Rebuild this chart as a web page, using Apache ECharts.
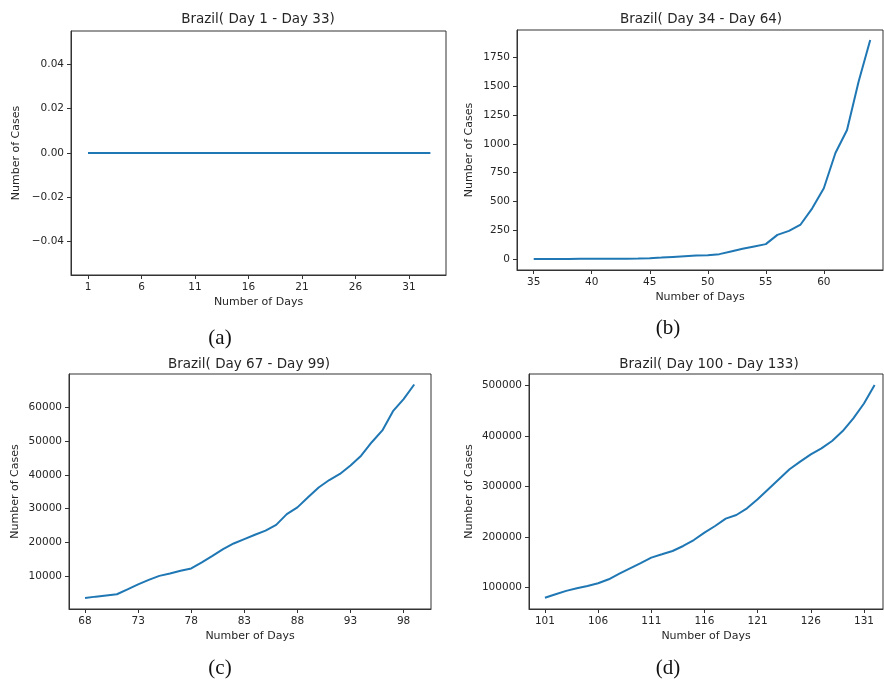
<!DOCTYPE html>
<html>
<head>
<meta charset="utf-8">
<script src="https://cdn.jsdelivr.net/npm/echarts@6/dist/echarts.min.js"></script>
<style>html,body{margin:0;padding:0;background:#fff}#c{width:884px;height:680px}</style>
</head>
<body>
<div id="c"></div>
<script>
// ---- data ----
const titles = ['Brazil( Day 1 - Day 33)', 'Brazil( Day 34 - Day 64)', 'Brazil( Day 67 - Day 99)', 'Brazil( Day 100 - Day 133)'];
const captions = ['(a)', '(b)', '(c)', '(d)'];

const daysA = [1,2,3,4,5,6,7,8,9,10,11,12,13,14,15,16,17,18,19,20,21,22,23,24,25,26,27,28,29,30,31,32,33];
const casesA = [0,0,0,0,0,0,0,0,0,0,0,0,0,0,0,0,0,0,0,0,0,0,0,0,0,0,0,0,0,0,0,0,0];

const daysB = [35,36,37,38,39,40,41,42,43,44,45,46,47,48,49,50,51,52,53,54,55,56,57,58,59,60,61,62,63,64];
const casesB = [1,1,1,1,2,2,2,3,4,5,8,13,19,25,31,34,43,66,89,110,130,210,245,300,440,615,920,1120,1540,1900];

const daysC = [68,69,70,71,72,73,74,75,76,77,78,79,80,81,82,83,84,85,86,87,88,89,90,91,92,93,94,95,96,97,98,99];
const casesC = [3550,3950,4300,4650,6100,7600,8900,10100,10800,11600,12300,14100,16000,18000,19700,21000,22300,23500,25200,28400,30400,33400,36300,38500,40300,42800,45700,49700,53200,58900,62500,66800];

const daysD = [101,102,103,104,105,106,107,108,109,110,111,112,113,114,115,116,117,118,119,120,121,122,123,124,125,126,127,128,129,130,131,132];
const casesD = [80000,86800,93500,98600,103200,108500,116400,127700,138200,148600,159300,165800,172400,182300,194100,208700,221800,236400,243500,256800,274600,294300,314100,333900,349100,363500,375400,389800,409600,434700,464000,500500];

const ticksXA = [1,6,11,16,21,26,31];
const ticksXB = [35,40,45,50,55,60];
const ticksXC = [68,73,78,83,88,93,98];
const ticksXD = [101,106,111,116,121,126,131];
const ticksYA = [-0.04,-0.02,0,0.02,0.04];
const ticksYB = [0,250,500,750,1000,1250,1500,1750];
const ticksYC = [10000,20000,30000,40000,50000,60000];
const ticksYD = [100000,200000,300000,400000,500000];

// ---- chart ----
const FONT = 'DejaVu Sans';
const TXT = '#262626';
const AX = '#333';

const grids = [
  {left: 71, top: 31, width: 375, height: 244},
  {left: 517, top: 30, width: 366, height: 240},
  {left: 69, top: 374, width: 362, height: 235},
  {left: 529, top: 374, width: 354, height: 235}
];
const xr = [[-0.59, 34.46], [33.56, 65.1], [66.49, 100.58], [99.5, 132.79]];
const yr = [[-0.055, 0.055], [-94.5, 1987], [285, 69920], [57690, 522340]];
const yGap = [49, 42, 48, 54];
const xTicks = [ticksXA, ticksXB, ticksXC, ticksXD];
const yTicks = [ticksYA, ticksYB, ticksYC, ticksYD];
const days = [daysA, daysB, daysC, daysD];
const cases = [casesA, casesB, casesC, casesD];

const yFmt = [
  v => v.toFixed(2).replace('-', '\u2212'),
  v => String(v), v => String(v), v => String(v)
];

const titlePos = [[258, 19], [701, 19], [249, 364], [709, 364]];
const capPos = [[220, 338], [668, 328], [220, 668], [668, 668]];

const option = {
  animation: false,
  backgroundColor: '#fff',
  grid: grids.map(g => Object.assign({show: true, borderColor: AX, borderWidth: 1, backgroundColor: 'transparent', containLabel: false}, g)),
  xAxis: grids.map((g, i) => ({
    type: 'value', gridIndex: i, min: xr[i][0], max: xr[i][1],
    name: 'Number of Days', nameLocation: 'middle', nameGap: 22,
    nameTextStyle: {fontFamily: FONT, fontSize: 11, color: TXT},
    axisLine: {show: true, onZero: false, lineStyle: {color: AX, width: 1}},
    axisTick: {show: true, length: 4, lineStyle: {color: AX}, customValues: xTicks[i]},
    axisLabel: {fontFamily: FONT, fontSize: 10.5, color: TXT, margin: 7, customValues: xTicks[i]},
    splitLine: {show: false}
  })),
  yAxis: grids.map((g, i) => ({
    type: 'value', gridIndex: i, min: yr[i][0], max: yr[i][1],
    name: 'Number of Cases', nameLocation: 'middle', nameGap: yGap[i],
    nameTextStyle: {fontFamily: FONT, fontSize: 11, color: TXT},
    axisLine: {show: true, onZero: false, lineStyle: {color: AX, width: 1}},
    axisTick: {show: true, length: 4, lineStyle: {color: AX}, customValues: yTicks[i]},
    axisLabel: {fontFamily: FONT, fontSize: 10.5, color: TXT, margin: 7, customValues: yTicks[i], formatter: yFmt[i]},
    splitLine: {show: false}
  })),
  series: grids.map((g, i) => ({
    type: 'line', xAxisIndex: i, yAxisIndex: i,
    data: days[i].map((d, k) => [d, cases[i][k]]),
    showSymbol: false, smooth: false,
    lineStyle: {color: '#1f77b4', width: 2},
    itemStyle: {color: '#1f77b4'}
  })),
  graphic: [
    ...titles.map((t, i) => ({
      type: 'text', x: titlePos[i][0], y: titlePos[i][1],
      style: {text: t, font: '13.5px "DejaVu Sans"', fill: TXT, textAlign: 'center', textVerticalAlign: 'middle'}
    })),
    ...captions.map((t, i) => ({
      type: 'text', x: capPos[i][0], y: capPos[i][1],
      style: {text: t, font: '21px "Liberation Serif"', fill: '#111', textAlign: 'center', textVerticalAlign: 'middle'}
    }))
  ]
};

echarts.init(document.getElementById('c'), null, {renderer: 'canvas'}).setOption(option);
</script>
</body>
</html>
